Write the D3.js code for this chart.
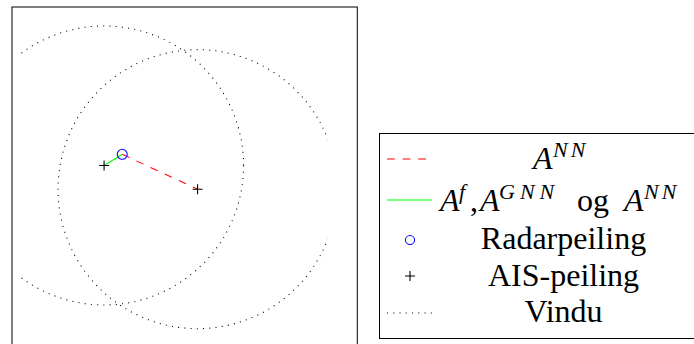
<!DOCTYPE html>
<html>
<head>
<meta charset="utf-8">
<script src="https://cdn.jsdelivr.net/npm/d3@7/dist/d3.min.js"></script>
<style>
  html, body { margin: 0; padding: 0; background: #fff; overflow: hidden; }
  svg { display: block; }
</style>
</head>
<body>
<svg id="chart" width="694" height="344"></svg>
<script>
// Bearings (unit: window radius). AIS bearings and the radar bearing.
const aisX = [0.0, 0.67];
const aisY = [0.0, -0.17];
const radarX = [0.13];
const radarY = [0.08];
// Search windows: one around each AIS bearing
const windowRadius = [1.0, 1.0];
// Association lines: A^NN (radar -> AIS 2), A^f/A^GNN/A^NN (AIS 1 -> radar)
const assocNN = [[0.13, 0.08], [0.67, -0.17]];
const assocAll = [[0.0, 0.0], [0.13, 0.08]];
// Axis limits (clip limits for the windows and the outer frame)
const xLimits = [-0.6, 1.6];
const xFrame = [-0.66, 1.815];
const yFrame = [-1.287, 1.136];

const SERIF = "'Liberation Serif', 'DejaVu Serif', 'Times New Roman', serif";

const svg = d3.select("#chart");

const x = d3.scaleLinear().domain(xFrame).range([12, 357.3]);
const y = d3.scaleLinear().domain(yFrame).range([345, 7]);

// clip windows to the x-limits
svg.append("defs").append("clipPath").attr("id", "xclip")
  .append("rect")
  .attr("x", x(xLimits[0])).attr("y", 0)
  .attr("width", x(xLimits[1]) - x(xLimits[0])).attr("height", 344);

// frame
svg.append("rect")
  .attr("x", x(xFrame[0])).attr("y", y(yFrame[1]))
  .attr("width", x(xFrame[1]) - x(xFrame[0]))
  .attr("height", y(yFrame[0]) - y(yFrame[1]))
  .attr("fill", "none").attr("stroke", "#000").attr("stroke-width", 1);

const plot = svg.append("g");

// windows (dotted circles)
plot.append("g").attr("clip-path", "url(#xclip)")
  .selectAll("ellipse").data(aisX.map((d, i) => ({cx: d, cy: aisY[i], r: windowRadius[i]})))
  .join("ellipse")
  .attr("cx", d => x(d.cx)).attr("cy", d => y(d.cy))
  .attr("rx", d => x(d.cx + d.r) - x(d.cx))
  .attr("ry", d => y(d.cy) - y(d.cy + d.r))
  .attr("fill", "none").attr("stroke", "#000")
  .attr("stroke-width", 1.05).attr("stroke-dasharray", "1.05 5.2");

const line = d3.line().x(d => x(d[0])).y(d => y(d[1]));

plot.append("path").attr("d", line(assocNN))
  .attr("fill", "none").attr("stroke", "#ff0000").attr("stroke-width", 1.05)
  .attr("stroke-dasharray", "7.8 7.8");

plot.append("path").attr("d", line(assocAll))
  .attr("fill", "none").attr("stroke", "#00ff00").attr("stroke-width", 1.05);

// radar bearing
plot.selectAll("circle.radar").data(radarX.map((d, i) => [d, radarY[i]]))
  .join("circle").attr("class", "radar")
  .attr("cx", d => x(d[0])).attr("cy", d => y(d[1])).attr("r", 5)
  .attr("fill", "none").attr("stroke", "#0000ff").attr("stroke-width", 1.05);

// AIS bearings
const plus = (g, s) => g.append("path")
  .attr("d", `M${-s},0H${s}M0,${-s}V${s}`)
  .attr("stroke", "#000").attr("stroke-width", 1.1).attr("fill", "none");
plot.selectAll("g.ais").data(aisX.map((d, i) => [d, aisY[i]]))
  .join("g").attr("class", "ais")
  .attr("transform", d => `translate(${x(d[0])},${y(d[1])})`)
  .each(function () { plus(d3.select(this), 5); });

// legend
const lg = svg.append("g");
lg.append("rect").attr("x", 379.5).attr("y", 133.5).attr("width", 400).attr("height", 205)
  .attr("fill", "#fff").attr("stroke", "#000").attr("stroke-width", 1);

const sx0 = 387, sx1 = 432, mx = 410;
lg.append("line").attr("x1", sx0).attr("x2", sx1).attr("y1", 159).attr("y2", 159)
  .attr("stroke", "#ff0000").attr("stroke-width", 1.05).attr("stroke-dasharray", "7.8 7.8");
lg.append("line").attr("x1", sx0).attr("x2", sx1).attr("y1", 200).attr("y2", 200)
  .attr("stroke", "#00ff00").attr("stroke-width", 1.05);
lg.append("circle").attr("cx", mx).attr("cy", 240).attr("r", 4.6)
  .attr("fill", "none").attr("stroke", "#0000ff").attr("stroke-width", 1.05);
plus(lg.append("g").attr("transform", `translate(${mx},276)`), 5);
lg.append("line").attr("x1", sx0).attr("x2", sx1).attr("y1", 313).attr("y2", 313)
  .attr("stroke", "#000").attr("stroke-width", 1.05).attr("stroke-dasharray", "1.05 5.2");

const FS = 32, SUP = 22;
function piece(str, px, base, size, italic, spacing) {
  return lg.append("text").attr("x", px).attr("y", base)
    .attr("font-family", SERIF)
    .attr("font-size", size).attr("font-style", italic ? "italic" : "normal")
    .attr("letter-spacing", spacing || 0).text(str);
}
// row 1: A^{NN}
piece("A", 533, 169, FS, true);
piece("NN", 553, 157, SUP, true, 3);
// row 2: A^f, A^{GNN} og A^{NN}
piece("A", 440, 211, FS, true);
piece("f", 459, 199, SUP, true);
piece(",", 470, 211, FS, false);
piece("A", 480, 211, FS, true);
piece("GNN", 499, 199, SUP, true, 5);
piece("og", 577, 211, FS, false);
piece("A", 624, 211, FS, true);
piece("NN", 644, 199, SUP, true, 3);
// plain rows
[["Radarpeiling", 249], ["AIS-peiling", 286], ["Vindu", 322]].forEach(([s, b]) =>
  lg.append("text").attr("x", 563.5).attr("y", b)
    .attr("font-family", SERIF).attr("font-size", FS)
    .attr("text-anchor", "middle").text(s));
</script>
</body>
</html>
